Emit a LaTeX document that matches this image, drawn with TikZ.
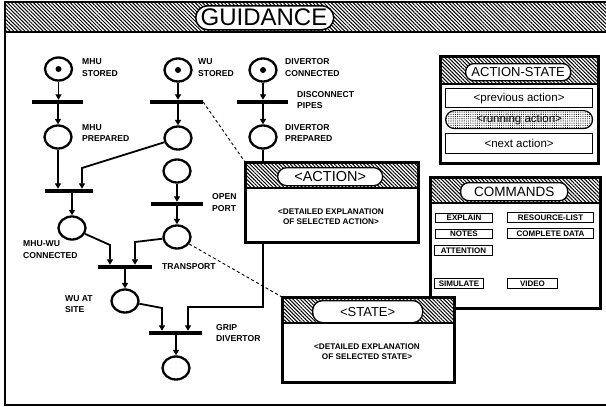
\documentclass[tikz,border=0pt]{standalone}
\usepackage{fontspec}
\setmainfont{Liberation Sans}
\usetikzlibrary{arrows.meta,patterns.meta,shapes.geometric}

\begin{document}
\begin{tikzpicture}[x=1pt,y=-1pt,
  place/.style={ellipse,draw,line width=2.3pt,fill=white,minimum width=27pt,minimum height=23pt,inner sep=0pt},
  trans/.style={rectangle,fill=black,minimum height=4pt,inner sep=0pt},
  arc/.style={line width=1.8pt,-{Triangle[width=6pt,length=5.5pt]}},
  token/.style={fill=black},
  lbl/.style={font=\fontsize{8.6}{11.5}\selectfont\bfseries,align=left,anchor=west,inner sep=0pt},
  panel/.style={draw,line width=2pt,fill=white,anchor=north west,inner sep=0pt},
  hatch/.style={pattern={Lines[angle=-45,distance=2.6pt,line width=1pt]}},
  pill/.style={draw,line width=1.3pt,fill=white,rounded corners=8pt,anchor=north west,inner sep=0pt},
  pilltext/.style={font=\fontsize{13}{13}\selectfont,inner sep=0pt},
  rowbox/.style={draw,line width=1.2pt,fill=white,anchor=north west,inner sep=0pt},
  rowtext/.style={font=\fontsize{11.5}{11.5}\selectfont,inner sep=0pt},
  btn/.style={draw,line width=1pt,fill=white,anchor=north west,inner sep=0pt,
    font=\fontsize{8}{8}\selectfont\bfseries},
  detail/.style={font=\fontsize{8.2}{10}\selectfont\bfseries,align=center,inner sep=0pt},
  link/.style={line width=0.9pt,dash pattern=on 3pt off 2.5pt}
]
\useasboundingbox (0,0) rectangle (606,407);

% ---- frame and title band
\fill[hatch] (5,2) rectangle (606,32);
\draw[line width=1.5pt] (606,2) -- (5,2) -- (5,405) -- (606,405);
\draw[line width=1.5pt] (5,32) -- (606,32);
\node[pill,line width=1.5pt,rounded corners=12pt,minimum width=138pt,minimum height=24pt] (title) at (195,5) {};
\node[font=\fontsize{24}{24}\selectfont,inner sep=0pt] (titletext) at (264,17.5) {GUIDANCE};

% ---- places
\node[place] (pMS) at (58.5,69) {};
\node[place] (pWS) at (178,70) {};
\node[place] (pDC) at (263,70) {};
\node[place] (pMP) at (58,137) {};
\node[place] (pWP) at (178,138) {};
\node[place] (pDP) at (263,137) {};
\node[place] (pOP) at (177,171) {};
\node[place] (pMW) at (72,228) {};
\node[place] (pTR) at (177,237) {};
\node[place] (pWA) at (125,301) {};
\node[place] (pEnd) at (176,368) {};
\fill[token] (pMS) circle (3pt);
\fill[token] (pWS) circle (3pt);
\fill[token] (pDC) circle (3pt);

% ---- transitions
\node[trans,minimum width=51pt] (tM) at (57.5,102) {};
\node[trans,minimum width=53pt] (tW) at (176.5,102) {};
\node[trans,minimum width=51pt] (tD) at (262.5,102) {};
\node[trans,minimum width=48pt] (tJ) at (69,191) {};
\node[trans,minimum width=52pt] (tO) at (177,204) {};
\node[trans,minimum width=54pt] (tT) at (125,267) {};
\node[trans,minimum width=53pt] (tG) at (175.5,333) {};

% ---- bend points
\coordinate (cJ) at (82,168);
\coordinate (cT1) at (110,245);
\coordinate (cT2) at (135,242);
\coordinate (cG1) at (162,308);
\coordinate (cG2) at (263,307);
\coordinate (cG3) at (188,307);

% ---- arcs
\draw[arc] (pMS) -- (pMS |- tM.north);
\draw[arc] (pMP |- tM.south) -- (pMP.north);
\draw[arc] (pWS) -- (pWS |- tW.north);
\draw[arc] (pWP |- tW.south) -- (pWP.north);
\draw[arc] (pDC) -- (pDC |- tD.north);
\draw[arc] (pDP |- tD.south) -- (pDP.north);
\draw[arc] (pMP) -- (pMP |- tJ.north);
\draw[arc] (pWP) -- (cJ) -- (cJ |- tJ.north);
\draw[arc] (pMW |- tJ.south) -- (pMW.north);
\draw[arc] (pOP) -- (pOP |- tO.north);
\draw[arc] (pTR |- tO.south) -- (pTR.north);
\draw[arc] (pMW) -- (cT1) -- (cT1 |- tT.north);
\draw[arc] (pTR) -- (cT2) -- (cT2 |- tT.north);
\draw[arc] (pWA |- tT.south) -- (pWA.north);
\draw[arc] (pWA) -- (cG1) -- (cG1 |- tG.north);
\draw[arc] (pDP) -- (cG2) -- (cG3) -- (cG3 |- tG.north);
\draw[arc] (pEnd |- tG.south) -- (pEnd.north);

% redraw transitions over the arcs
\foreach \t in {tM,tW,tD,tJ,tO,tT,tG} \fill (\t.north west) rectangle (\t.south east);

% ---- labels
\node[lbl] (lMS) at (82,67.5) {MHU\\STORED};
\node[lbl] (lWS) at (198,67.5) {WU\\STORED};
\node[lbl] (lDC) at (285,67.5) {DIVERTOR\\CONNECTED};
\node[lbl] (lDP2) at (297,100) {DISCONNECT\\PIPES};
\node[lbl] (lMP) at (82,133) {MHU\\PREPARED};
\node[lbl] (lDP) at (285,133) {DIVERTOR\\PREPARED};
\node[lbl] (lOP) at (212,202.5) {OPEN\\PORT};
\node[lbl] (lMW) at (23,249.5) {MHU-WU\\CONNECTED};
\node[lbl] (lTR) at (162,267) {TRANSPORT};
\node[lbl] (lWA) at (65,304) {WU AT\\SITE};
\node[lbl] (lGD) at (216,333) {GRIP\\DIVERTOR};

% ---- commands panel
\node[panel,minimum width=169pt,minimum height=130pt] (cmd) at (430,177) {};
\fill[hatch] (430,177) rectangle (599,203);
\draw[line width=1.5pt] (430,203) -- (599,203);
\draw[line width=2pt] (cmd.north west) rectangle (cmd.south east);
\node[pill,minimum width=107pt,minimum height=18pt] (cmdpill) at (460,182) {};
\node[pilltext,font=\fontsize{13.5}{13.5}\selectfont] (cmdtext) at (cmdpill) {COMMANDS};
\node[btn,minimum width=57pt,minimum height=9.5pt] (bExplain) at (435,212.5) {EXPLAIN};
\node[btn,minimum width=86pt,minimum height=10pt] (bRes) at (507,212) {RESOURCE-LIST};
\node[btn,minimum width=57pt,minimum height=9.5pt] (bNotes) at (435,228.5) {NOTES};
\node[btn,minimum width=86pt,minimum height=10pt] (bComp) at (507,228) {COMPLETE DATA};
\node[btn,minimum width=58pt,minimum height=10pt] (bAtt) at (434,245) {ATTENTION};
\node[btn,minimum width=49pt,minimum height=10pt] (bSim) at (434,278) {SIMULATE};
\node[btn,minimum width=50pt,minimum height=10pt] (bVid) at (507,278) {VIDEO};

% ---- action-state panel
\node[panel,minimum width=157pt,minimum height=106pt] (as) at (440,56) {};
\fill[hatch] (440,56) rectangle (597,84);
\draw[line width=1.5pt] (440,84) -- (597,84);
\draw[line width=2pt] (as.north west) rectangle (as.south east);
\node[pill,minimum width=105pt,minimum height=17pt] (aspill) at (465,63) {};
\node[pilltext] (astext) at (aspill) {ACTION-STATE};
\node[rowbox,minimum width=147pt,minimum height=19pt] (rPrev) at (445,88) {};
\node[rowtext] at (rPrev) {<previous action>};
\node[rowbox,rounded corners=9pt,pattern={Dots[distance=2.2pt,radius=0.55pt]},minimum width=147pt,minimum height=18pt] (rRun) at (445,110) {};
\node[rowtext] at (rRun) {<running action>};
\node[rowbox,minimum width=147pt,minimum height=20pt] (rNext) at (445,133) {};
\node[rowtext] at (rNext) {<next action>};

% ---- action panel
\node[panel,minimum width=172pt,minimum height=79pt] (act) at (245,162) {};
\fill[hatch] (245,162) rectangle (417,188);
\draw[line width=1.5pt] (245,188) -- (417,188);
\draw[line width=2pt] (act.north west) rectangle (act.south east);
\node[pill,rounded corners=9pt,minimum width=105pt,minimum height=18pt] (actpill) at (277,167) {};
\node[pilltext,font=\fontsize{14.5}{14.5}\selectfont] (acttext) at (actpill) {<ACTION>};
\node[detail] (actdetail) at (331,216.5) {<DETAILED EXPLANATION\\OF SELECTED ACTION>};

% ---- state panel
\node[panel,minimum width=171pt,minimum height=84pt] (st) at (282,297) {};
\fill[hatch] (282,297) rectangle (453,323);
\draw[line width=1.5pt] (282,323) -- (453,323);
\draw[line width=2pt] (st.north west) rectangle (st.south east);
\node[pill,rounded corners=10pt,minimum width=110pt,minimum height=22pt] (stpill) at (312,300) {};
\node[pilltext] (sttext) at (stpill) {<STATE>};
\node[detail] (stdetail) at (367,352) {<DETAILED EXPLANATION\\OF SELECTED STATE>};

% ---- selection links
\draw[link] (tW.east) -- (act.north west);
\draw[link] (pTR) -- (st.north west);

\end{tikzpicture}
\end{document}
